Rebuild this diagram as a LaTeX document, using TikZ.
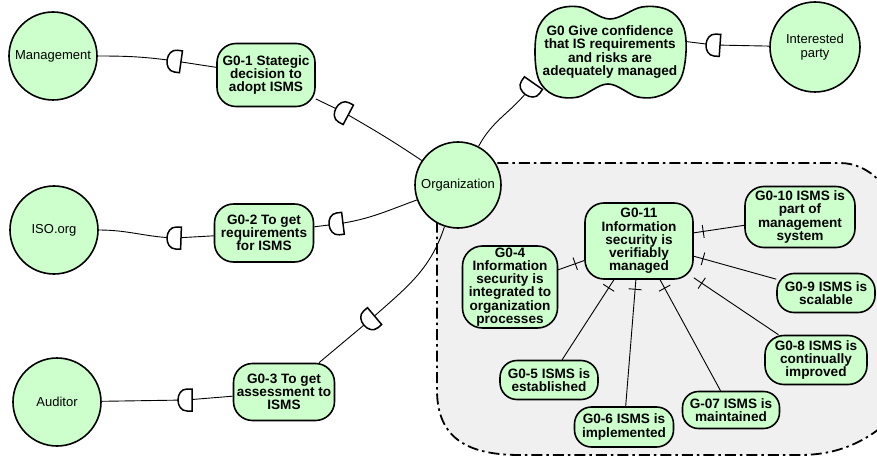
\documentclass[tikz,border=0pt]{standalone}
\usepackage{fontspec}
\setmainfont{Liberation Sans}
\usetikzlibrary{decorations.markings}
\definecolor{goalgreen}{HTML}{CCFFCC}
\definecolor{bndgray}{HTML}{F0F0F0}

\begin{document}
\begin{tikzpicture}[x=1pt,y=-1pt,
  actor/.style={circle, draw, line width=1.6pt, fill=goalgreen, minimum size=88pt,
    inner sep=0pt, align=center, font=\fontsize{13}{13.3}\selectfont},
  goal/.style={rectangle, rounded corners=19pt, draw, line width=1.6pt, fill=goalgreen,
    inner sep=0pt, align=center, font=\fontsize{13.6}{13.3}\selectfont\bfseries},
  softtext/.style={inner sep=0pt, align=center, minimum width=150pt, minimum height=92pt,
    font=\fontsize{13.6}{13.3}\selectfont\bfseries},
  link/.style={line width=0.9pt},
  refine/.style={line width=0.9pt, postaction={decorate},
    decoration={markings, mark=at position -9.5pt with
      {\draw[line width=0.9pt] (0pt,-6.5pt) -- (0pt,6.5pt);}}},
  boundary/.style={line width=1.8pt, dash pattern=on 11pt off 4pt on 2.5pt off 4pt, fill=bndgray},
  pics/dmark/.style={code={
    \draw[line width=1.5pt, fill=white] (-6pt,-11pt) -- (-1pt,-11pt)
      .. controls (11pt,-11pt) and (11pt,11pt) .. (-1pt,11pt) -- (-6pt,11pt) -- cycle;}}
]
\useasboundingbox (0,0) rectangle (877,457);

% actor boundary of the organization
\draw[boundary] (437,200) -- (437,390) .. controls (437,440) and (470,455) .. (520,455)
  -- (800,455) .. controls (840,455) and (870,440) .. (895,415)
  -- (895,220) .. controls (895,190) and (870,163) .. (840,163)
  -- (480,163) .. controls (455,163) and (437,175) .. (437,200) -- cycle;

% actors
\node[actor] (mgmt) at (53,56) {Management};
\node[actor] (iso) at (54,230) {ISO.org};
\node[actor] (aud) at (57,402) {Auditor};
\node[actor, minimum size=86pt] (org) at (458,185) {Organization};
\node[actor, minimum size=90pt] (ip) at (815,47) {Interested\\party};

% softgoal G0
\draw[line width=1.6pt, fill=goalgreen] plot[smooth cycle, tension=0.6] coordinates {
  (535,52) (539,26) (555,10) (580,7) (610,19) (642,7) (668,10) (683,26)
  (686,52) (680,80) (662,95) (638,97) (608,84) (578,97) (554,95) (539,80)};
\node[softtext] (g0) at (610,52) {G0 Give confidence\\that IS requirements\\and risks are\\adequately managed};

% dependency goals
\node[goal, minimum width=98pt, minimum height=63pt] (g01) at (266,75) {G0-1 Stategic\\decision to\\adopt ISMS};
\node[goal, minimum width=99pt, minimum height=58pt] (g02) at (264,233) {G0-2 To get\\requirements\\for ISMS};
\node[goal, minimum width=101pt, minimum height=57pt] (g03) at (284,392) {G0-3 To get\\assessment to\\ISMS};

% goals inside the organization
\node[goal, minimum width=108pt, minimum height=76pt] (g011) at (639,241) {G0-11\\Information\\security is\\verifiably\\managed};
\node[goal, minimum width=110pt, minimum height=61pt] (g010) at (800,217) {G0-10 ISMS is\\part of\\management\\system};
\node[goal, minimum width=95pt, minimum height=82pt, rounded corners=20pt] (g04) at (510,287) {G0-4\\Information\\security is\\integrated to\\organization\\processes};
\node[goal, minimum width=98pt, minimum height=39pt, rounded corners=17pt] (g09) at (826,293) {G0-9 ISMS is\\scalable};
\node[goal, minimum width=102pt, minimum height=49pt] (g08) at (816,360) {G0-8 ISMS is\\continually\\improved};
\node[goal, minimum width=98pt, minimum height=39pt, rounded corners=17pt] (g05) at (549,380) {G0-5 ISMS is\\established};
\node[goal, minimum width=99pt, minimum height=40pt, rounded corners=17pt] (g06) at (624,427) {G0-6 ISMS is\\implemented};
\node[goal, minimum width=97pt, minimum height=37pt, rounded corners=16pt] (g07) at (731,410) {G-07 ISMS is\\maintained};

% refinement links
\foreach \c in {g04,g010,g09,g08,g07,g06,g05}
  \draw[refine] (\c) -- (g011);

% dependency link mid points
\coordinate (m1) at (175,61);
\coordinate (m2) at (343,112);
\coordinate (m3) at (175,238);
\coordinate (m4) at (337,224);
\coordinate (m5) at (186,400);
\coordinate (m6) at (370,320);
\coordinate (m7) at (530,88);
\coordinate (m8) at (714,45);

% dependency links
\draw[link] (mgmt) to[out=0,in=172] (m1) -- (g01);
\draw[link] (g01) -- (m2) to[out=-30,in=146] (org);
\draw[link] (iso) to[out=0,in=178] (m3) -- (g02);
\draw[link] (g02) -- (m4) to[out=8,in=200] (org);
\draw[link] (aud) -- (m5) -- (g03);
\draw[link] (g03) -- (m6) to[out=42,in=252] (org);
\draw[link] (org) to[out=62,in=233] (m7) -- (g0);
\draw[link] (g0.8) -- (m8) -- (ip);

% dependency markers
\pic[rotate=172] at (m1) {dmark};
\pic[rotate=152] at (m2) {dmark};
\pic[rotate=178] at (m3) {dmark};
\pic[rotate=187] at (m4) {dmark};
\pic[rotate=180] at (m5) {dmark};
\pic[rotate=220] at (m6) {dmark};
\pic[rotate=235] at (m7) {dmark};
\pic[rotate=176] at (m8) {dmark};
\end{tikzpicture}
\end{document}
